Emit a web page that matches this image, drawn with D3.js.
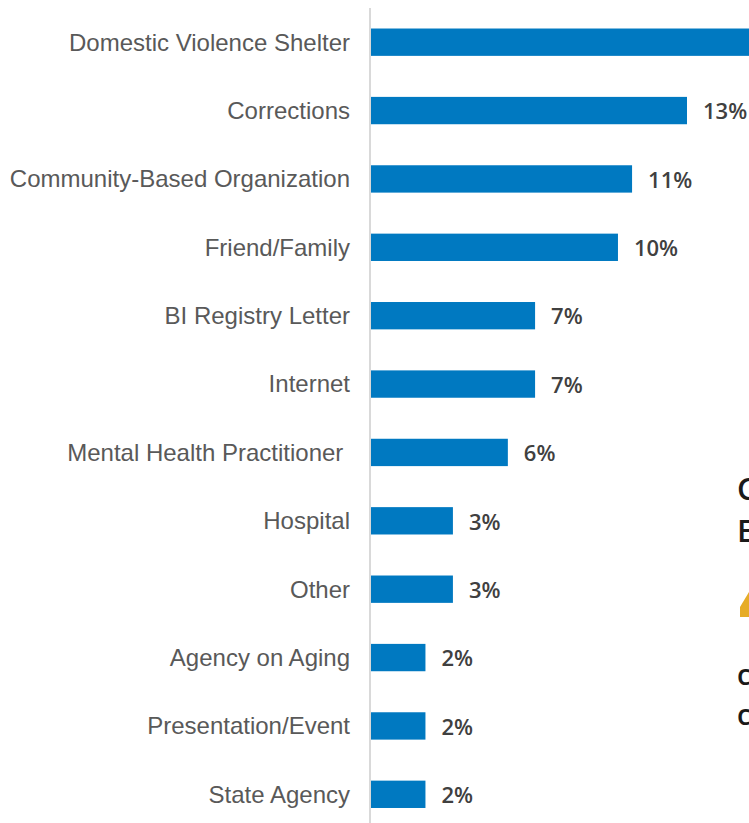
<!DOCTYPE html>
<html>
<head>
<meta charset="utf-8">
<script src="https://cdnjs.cloudflare.com/ajax/libs/d3/7.8.5/d3.min.js"></script>
<style>
  html, body { margin: 0; padding: 0; background: #fff; overflow: hidden; }
  svg { display: block; }
  .cat { font-family: "Liberation Sans", Arial, sans-serif; font-size: 24px; fill: #595959; white-space: pre; }
  .val { font-family: "Open Sans", sans-serif; font-size: 22px; font-weight: 600; fill: #404040; }
  .side { font-family: "Open Sans", sans-serif; font-weight: 600; fill: #1a1a1a; }
</style>
</head>
<body>
<svg id="chart" width="749" height="823"></svg>
<script>
const categories = [
  "Domestic Violence Shelter", "Corrections", "Community-Based Organization",
  "Friend/Family", "BI Registry Letter", "Internet", "Mental Health Practitioner ",
  "Hospital", "Other", "Agency on Aging", "Presentation/Event", "State Agency"
];
const shares = [17, 13, 10.74, 10.16, 6.75, 6.75, 5.63, 3.37, 3.37, 2.24, 2.24, 2.24];
const sideLetters = [
  { text: "C", size: 31, baseline: 500 },
  { text: "E", size: 31, baseline: 542 },
  { text: "c", size: 28, baseline: 685 },
  { text: "c", size: 28, baseline: 725 }
];

const svg = d3.select("#chart");
const width = +svg.attr("width");
const x = d3.scaleLinear().domain([0, 13]).range([371, 687]);
const y = d3.scaleBand().domain(categories).range([8, 828.5]).paddingInner(0.6).paddingOuter(0.3);
const rows = categories.map((c, i) => ({ c, v: shares[i] }));
const mid = d => y(d.c) + y.bandwidth() / 2;

// Vertical baseline of the bars
svg.append("line").attr("x1", 370).attr("x2", 370).attr("y1", 8).attr("y2", 823)
  .attr("stroke", "#d9d9d9").attr("stroke-width", 2);

svg.selectAll("rect.bar").data(rows).join("rect").attr("class", "bar")
  .attr("x", x(0)).attr("y", d => y(d.c))
  .attr("width", d => x(d.v) - x(0)).attr("height", y.bandwidth())
  .attr("fill", "#0079c1");

svg.selectAll("text.cat").data(rows).join("text").attr("class", "cat")
  .attr("x", 350).attr("y", mid).attr("dy", "0.35em")
  .attr("text-anchor", "end").text(d => d.c);

// Value labels, only where the bar leaves room for one inside the frame
svg.selectAll("text.val").data(rows.filter(d => x(d.v) + 16 < width)).join("text").attr("class", "val")
  .attr("x", d => x(d.v) + 16).attr("y", mid).attr("dy", "0.4em")
  .text(d => d3.format(".0f")(d.v) + "%");

// Side callout running off the right edge
svg.selectAll("text.side").data(sideLetters).join("text").attr("class", "side")
  .attr("x", 737).attr("y", d => d.baseline).attr("font-size", d => d.size).text(d => d.text);
svg.append("path").attr("d", d3.line()([[740, 617], [740, 607], [749, 592], [749, 617]])).attr("fill", "#e6ac27");
</script>
</body>
</html>
